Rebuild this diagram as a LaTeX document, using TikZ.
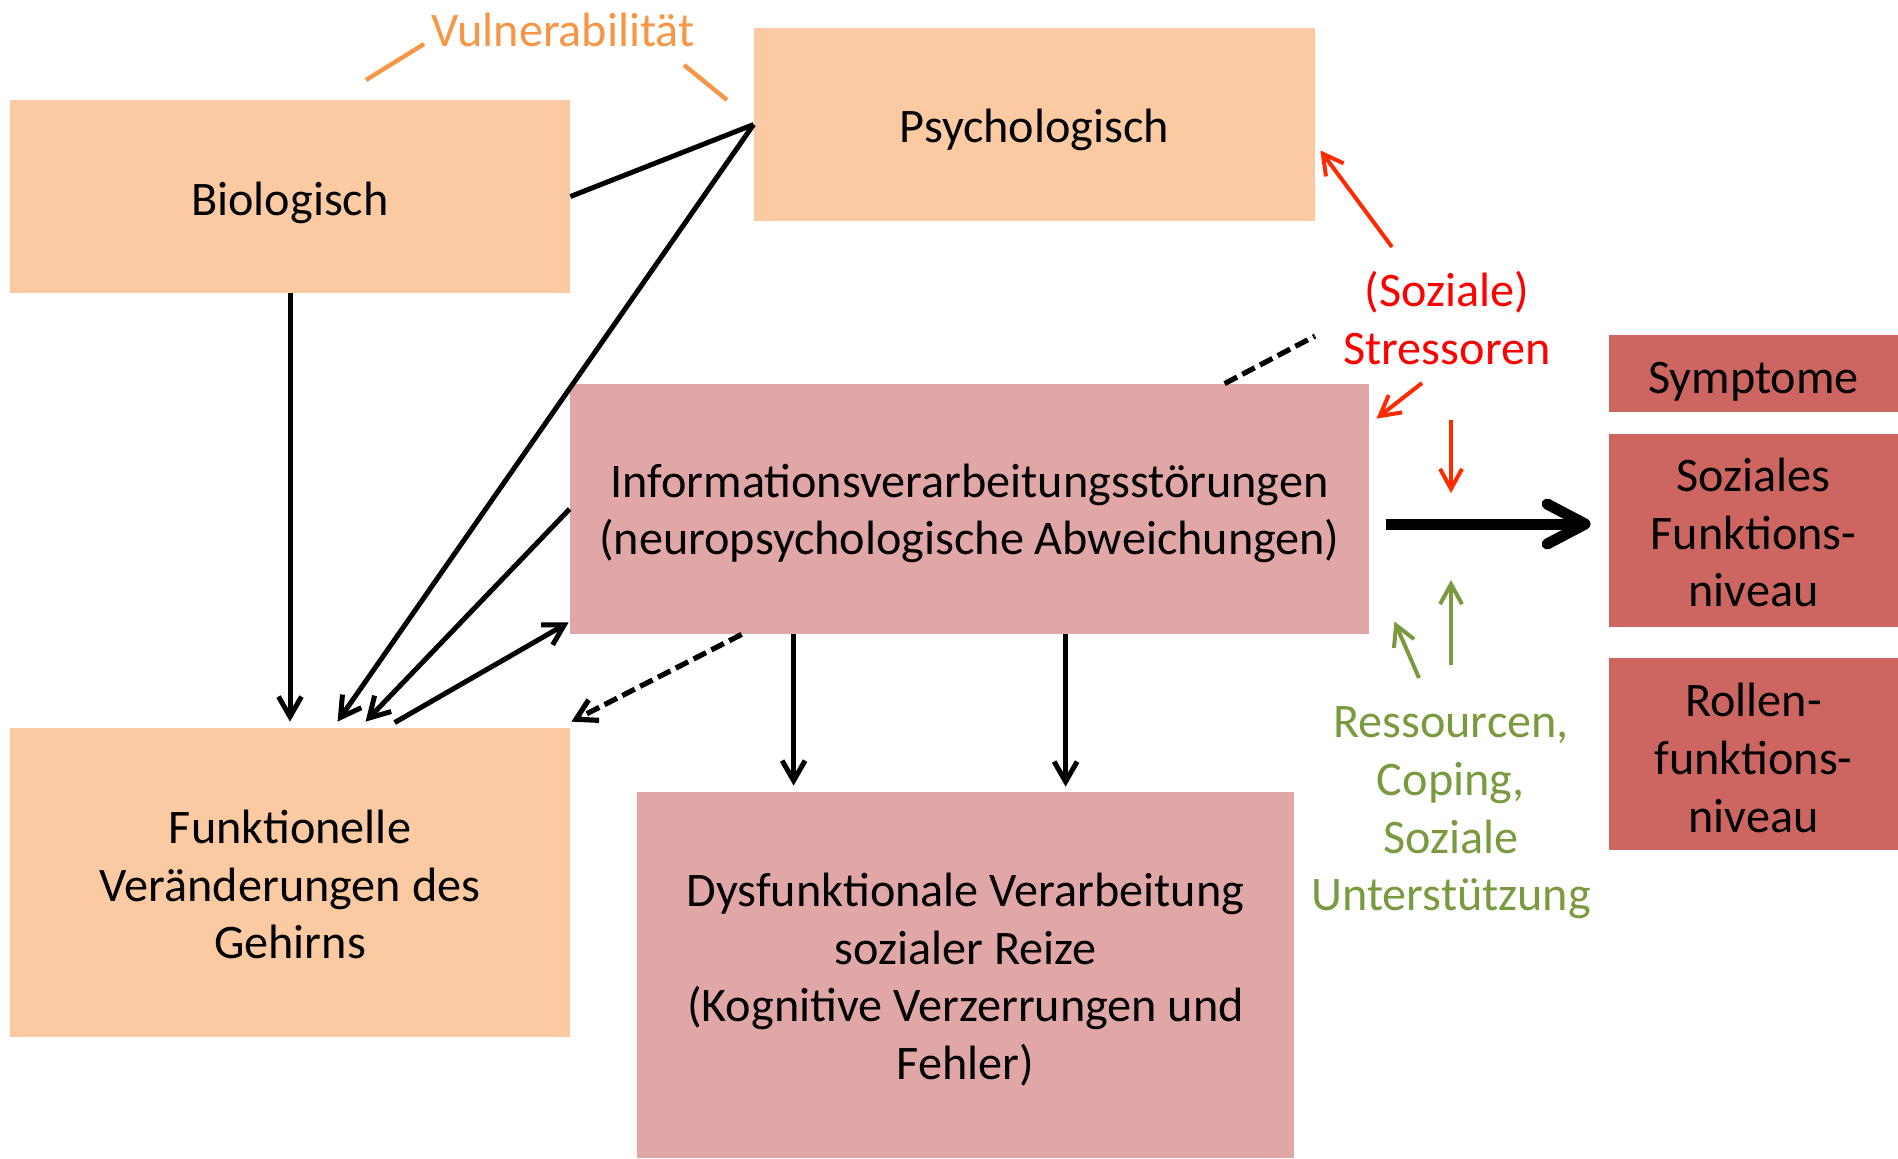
\documentclass[tikz,border=0pt]{standalone}
\usepackage{fontspec}
\setmainfont{Carlito}
\usetikzlibrary{arrows.meta,calc}
\definecolor{peach}{HTML}{FBCAA2}
\definecolor{rose}{HTML}{E0A7A6}
\definecolor{brick}{HTML}{CD6661}
\definecolor{vulor}{HTML}{F79646}
\definecolor{redtxt}{HTML}{FF0000}
\definecolor{redarr}{HTML}{FF2A00}
\definecolor{olive}{HTML}{7A9A40}
\newcommand{\topstrut}[1]{\rule{0pt}{#1}}
\newcommand{\botstrut}{\rule[-6pt]{0pt}{6pt}}
\begin{document}
\begin{tikzpicture}[x=0.5pt,y=-0.5pt,
  every node/.style={font=\fontsize{24.1}{28.8}\selectfont, align=center, inner sep=0pt},
  box/.style={rectangle, inner sep=0pt},
  conn/.style={line width=2.5pt, -{Straight Barb[length=10pt,width=11.5pt]}},
  dconn/.style={line width=2.6pt, dash pattern=on 7pt off 3pt},
  redconn/.style={redarr, line width=2pt, -{Straight Barb[length=10pt,width=11pt]}},
  greenconn/.style={olive, line width=2pt, -{Straight Barb[length=10pt,width=11pt]}},
  bigconn/.style={line width=5.5pt, -{Straight Barb[length=19pt,width=20pt,round]}},
  vulline/.style={vulor, line width=2.2pt}
]
\useasboundingbox (0,0) rectangle (1898,1158);

% boxes
\node[box, fill=peach, minimum width=280pt, minimum height=96.5pt] (bio) at (290,196.5) {\topstrut{25.2pt}Biologisch\botstrut};
\node[box, fill=peach, minimum width=280.5pt, minimum height=96.5pt] (psy) at (1034.5,124.5) {\topstrut{24pt}Psychologisch\botstrut};
\node[box, fill=rose, minimum width=399.5pt, minimum height=125pt] (info) at (969.5,509) {\topstrut{22.8pt}Informationsverarbeitungsstörungen\\(neuropsychologische Abweichungen)\botstrut};
\node[box, fill=peach, minimum width=280pt, minimum height=154.5pt] (funk) at (290,882.5) {\topstrut{24.6pt}Funktionelle\\Veränderungen des\\Gehirns\botstrut};
\node[box, fill=rose, minimum width=328.5pt, minimum height=183pt] (dys) at (965.5,975) {\topstrut{24pt}Dysfunktionale Verarbeitung\\sozialer Reize\\(Kognitive Verzerrungen und\\Fehler)\botstrut};
\node[box, fill=brick, minimum width=144.5pt, minimum height=38.5pt] (sym) at (1753.5,373.5) {\topstrut{26.4pt}Symptome\botstrut};
\node[box, fill=brick, minimum width=144.5pt, minimum height=96.5pt] (soz) at (1753.5,530.5) {\topstrut{24.6pt}Soziales\\Funktions-\\niveau\botstrut};
\node[box, fill=brick, minimum width=144.5pt, minimum height=96pt] (rol) at (1753.5,754) {\topstrut{26.4pt}Rollen-\\funktions-\\niveau\botstrut};

% labels
\node[text=vulor] (vul) at (563,30) {Vulnerabilität};
\node[text=redtxt] (st) at (1447,318) {(Soziale)\\Stressoren};
\node[text=olive] (res) at (1451,813) {Ressourcen,\\Coping,\\Soziale\\Unterstützung};

% vulnerability strokes
\draw[vulline] ($(vul.center)+(-197,50)$) -- ($(vul.center)+(-139,14)$);
\draw[vulline] ($(vul.center)+(121,35)$) -- ($(vul.center)+(164,70)$);

% black connectors
\draw[line width=2.5pt] (bio.east) -- (psy.west);
\draw[conn] (psy.west) -- ($(funk.north west)+(328,-6)$);
\draw[conn] (info.west) -- ($(funk.north west)+(356,-6)$);
\draw[conn] ($(funk.north west)+(385,-5)$) -- ($(info.south west)+(-1,-12)$);
\draw[dconn, -{Straight Barb[length=10pt,width=11.5pt]}] ($(info.south west)+(172,0)$) -- ($(funk.north east)+(1,-6)$);
\coordinate (dend) at (1315,336);
\draw[dconn] ($(info.north west)+(655,0)$) -- (dend);
\draw[conn] (bio.south) -- ($(funk.north)+(0,-6)$);
\draw[conn] ($(info.south west)+(224,0)$) -- ($(dys.north west)+(157,-6)$);
\draw[conn] ($(info.south west)+(496,0)$) -- ($(dys.north west)+(429,-5)$);
\draw[bigconn] ($(info.east)+(17,15)$) -- ($(soz.west)+(-18,-6.5)$);

% stressors
\draw[redconn] ($(st.center)+(-55,-71)$) -- ($(psy.east)+(5,26)$);
\draw[redconn] ($(st.center)+(-25,65)$) -- ($(info.north east)+(7,35)$);
\draw[redconn] ($(st.center)+(4,102)$) -- ($(st.center)+(4,175)$);

% resources
\draw[greenconn] ($(res.center)+(0,-148)$) -- ($(res.center)+(0,-233)$);
\draw[greenconn] ($(res.center)+(-32,-135)$) -- ($(info.south east)+(25,-13)$);
\end{tikzpicture}
\end{document}
